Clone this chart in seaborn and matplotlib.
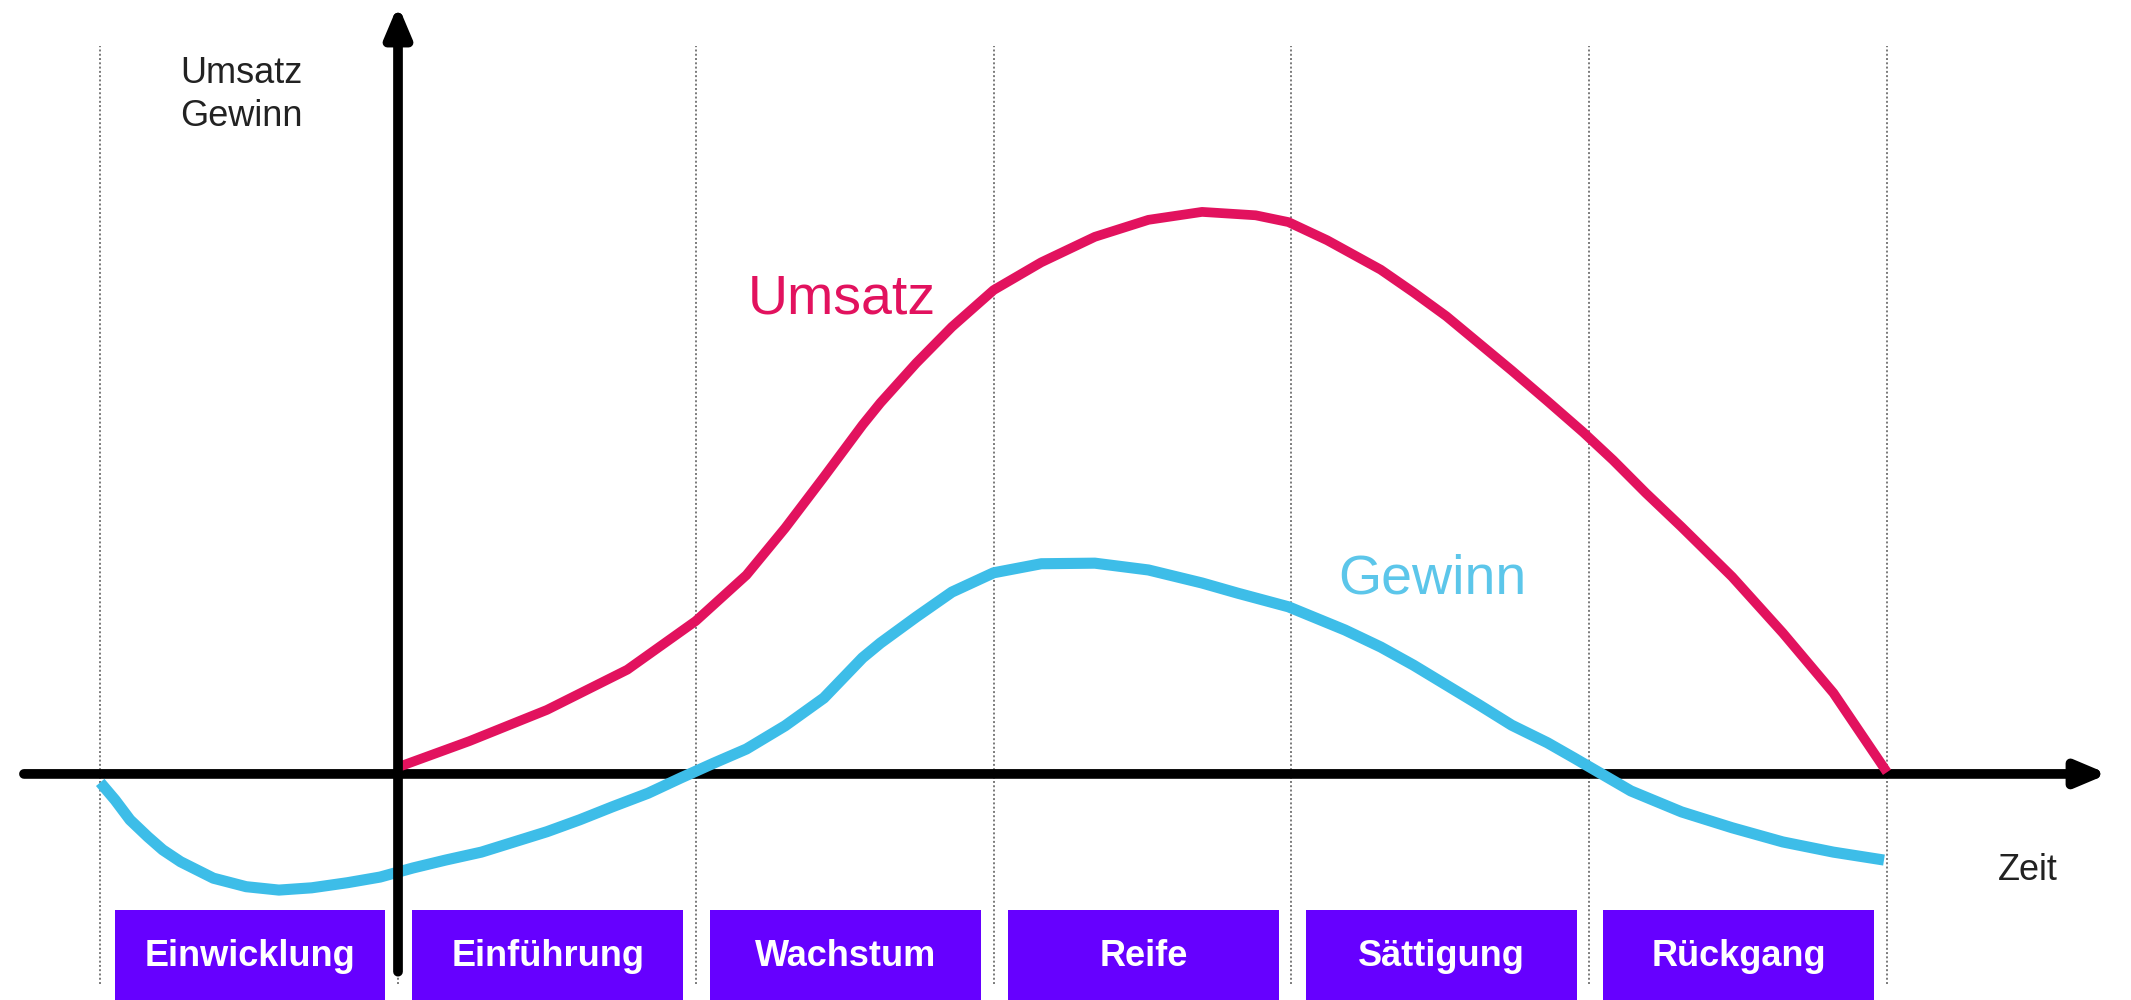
import matplotlib
matplotlib.use("Agg")
import matplotlib.pyplot as plt
import pandas as pd
import seaborn as sns
from matplotlib.patches import Rectangle

# Phasen des Produktlebenszyklus (Zeit in Phaseneinheiten, y-Achse bei 0)
phases = ["Einwicklung", "Einführung", "Wachstum", "Reife", "Sättigung", "Rückgang"]
phase_starts = [-1, 0, 1, 2, 3, 4]
phase_bounds = [-1, 0, 1, 2, 3, 4, 5]

# Umsatz-Kurve
umsatz_t = [0.00, 0.24, 0.50, 0.77, 1.00, 1.17, 1.30, 1.43, 1.56, 1.62, 1.74, 1.86,
            2.00, 2.16, 2.34, 2.52, 2.70, 2.88, 2.99, 3.12, 3.30, 3.41, 3.52, 3.63,
            3.74, 3.86, 3.98, 4.08, 4.19, 4.31, 4.48, 4.65, 4.82, 5.00]
umsatz = [1.2, 5.8, 11.3, 18.4, 27.0, 35.1, 43.4, 52.4, 61.6, 65.5, 72.5, 78.9,
          85.4, 90.3, 94.8, 97.8, 99.2, 98.6, 97.4, 94.2, 89.0, 85.0, 80.8, 76.0,
          71.2, 65.8, 60.3, 55.4, 49.6, 43.6, 34.8, 24.9, 14.3, 0.3]

# Gewinn-Kurve
gewinn_t = [-1.00, -0.95, -0.90, -0.84, -0.79, -0.73, -0.62, -0.51, -0.40, -0.29,
            -0.17, -0.06, 0.05, 0.16, 0.28, 0.39, 0.50, 0.61, 0.72, 0.84, 0.95,
            1.06, 1.17, 1.30, 1.43, 1.56, 1.62, 1.74, 1.86, 2.00, 2.16, 2.34,
            2.52, 2.70, 2.82, 2.99, 3.18, 3.30, 3.41, 3.52, 3.63, 3.74, 3.86,
            3.95, 4.14, 4.31, 4.48, 4.65, 4.82, 4.99]
gewinn = [-1.5, -4.6, -8.1, -11.1, -13.4, -15.5, -18.4, -19.9, -20.5, -20.1,
          -19.2, -18.2, -16.6, -15.2, -13.8, -12.0, -10.2, -8.1, -5.8, -3.4, -0.7,
          1.9, 4.4, 8.5, 13.4, 20.5, 23.1, 27.7, 32.1, 35.5, 37.1, 37.2,
          36.0, 33.7, 31.9, 29.5, 25.4, 22.4, 19.2, 15.7, 12.2, 8.6, 5.5,
          2.8, -3.0, -6.7, -9.5, -12.0, -13.8, -15.2]

UMSATZ_COLOR = "#e2125e"
GEWINN_COLOR = "#3dbde8"
GEWINN_LABEL_COLOR = "#5cc6ea"
PHASE_COLOR = "#6600ff"
TEXT_COLOR = "#222222"

sns.set_theme(style="white")
plt.rcParams["font.family"] = ["Liberation Sans", "DejaVu Sans"]

fig = plt.figure(figsize=(21.31, 10), dpi=100)
ax = fig.add_axes([0, 0, 1, 1])
ax.set_xlim(-1.3365, 5.8194)
ax.set_ylim(-39.9, 136.6)

# gepunktete Phasengrenzen
for b in phase_bounds:
    ax.plot([b, b], [-37, 128.5], color="#7a7a7a", lw=1.4,
            ls=(0, (1, 1.2)), zorder=1)

# Zeit-Achse
arrow_style = "-|>,head_length=0.9,head_width=0.38"
ax.annotate("", xy=(5.742, 0), xytext=(-1.256, 0), zorder=2,
            arrowprops=dict(arrowstyle=arrow_style, lw=7, color="black",
                            mutation_scale=20, shrinkA=0, shrinkB=0))

# Kurven
df_umsatz = pd.DataFrame({"Zeit": umsatz_t, "Wert": umsatz})
df_gewinn = pd.DataFrame({"Zeit": gewinn_t, "Wert": gewinn})
sns.lineplot(data=df_umsatz, x="Zeit", y="Wert", color=UMSATZ_COLOR, lw=7,
             solid_capstyle="butt", solid_joinstyle="round", ax=ax, zorder=3)
sns.lineplot(data=df_gewinn, x="Zeit", y="Wert", color=GEWINN_COLOR, lw=8,
             solid_capstyle="butt", solid_joinstyle="round", ax=ax, zorder=3)

# Umsatz/Gewinn-Achse
ax.annotate("", xy=(0, 135.7), xytext=(0, -34.9), zorder=4,
            arrowprops=dict(arrowstyle=arrow_style, lw=7, color="black",
                            mutation_scale=20, shrinkA=0, shrinkB=0))

# Phasen-Kästen
for name, start in zip(phases, phase_starts):
    ax.add_patch(Rectangle((start + 0.048, -45), 0.91, 21, color=PHASE_COLOR,
                           lw=0, zorder=2))
    ax.text(start + 0.048 + 0.455, -33.9, name, ha="center", va="baseline",
            fontsize=26, fontweight="bold", color="white", zorder=5)

# Beschriftungen
ax.text(-0.732, 126.7, "Umsatz\nGewinn", ha="left", va="top", fontsize=26,
        color=TEXT_COLOR, linespacing=1.3)
ax.text(5.373, -18.7, "Zeit", ha="left", va="baseline", fontsize=26,
        color=TEXT_COLOR)
ax.text(1.49, 81.2, "Umsatz", ha="center", va="baseline", fontsize=40,
        color=UMSATZ_COLOR)
ax.text(3.472, 31.9, "Gewinn", ha="center", va="baseline", fontsize=40,
        color=GEWINN_LABEL_COLOR)

ax.axis("off")
fig.savefig("out.png", dpi=100)
plt.close(fig)
